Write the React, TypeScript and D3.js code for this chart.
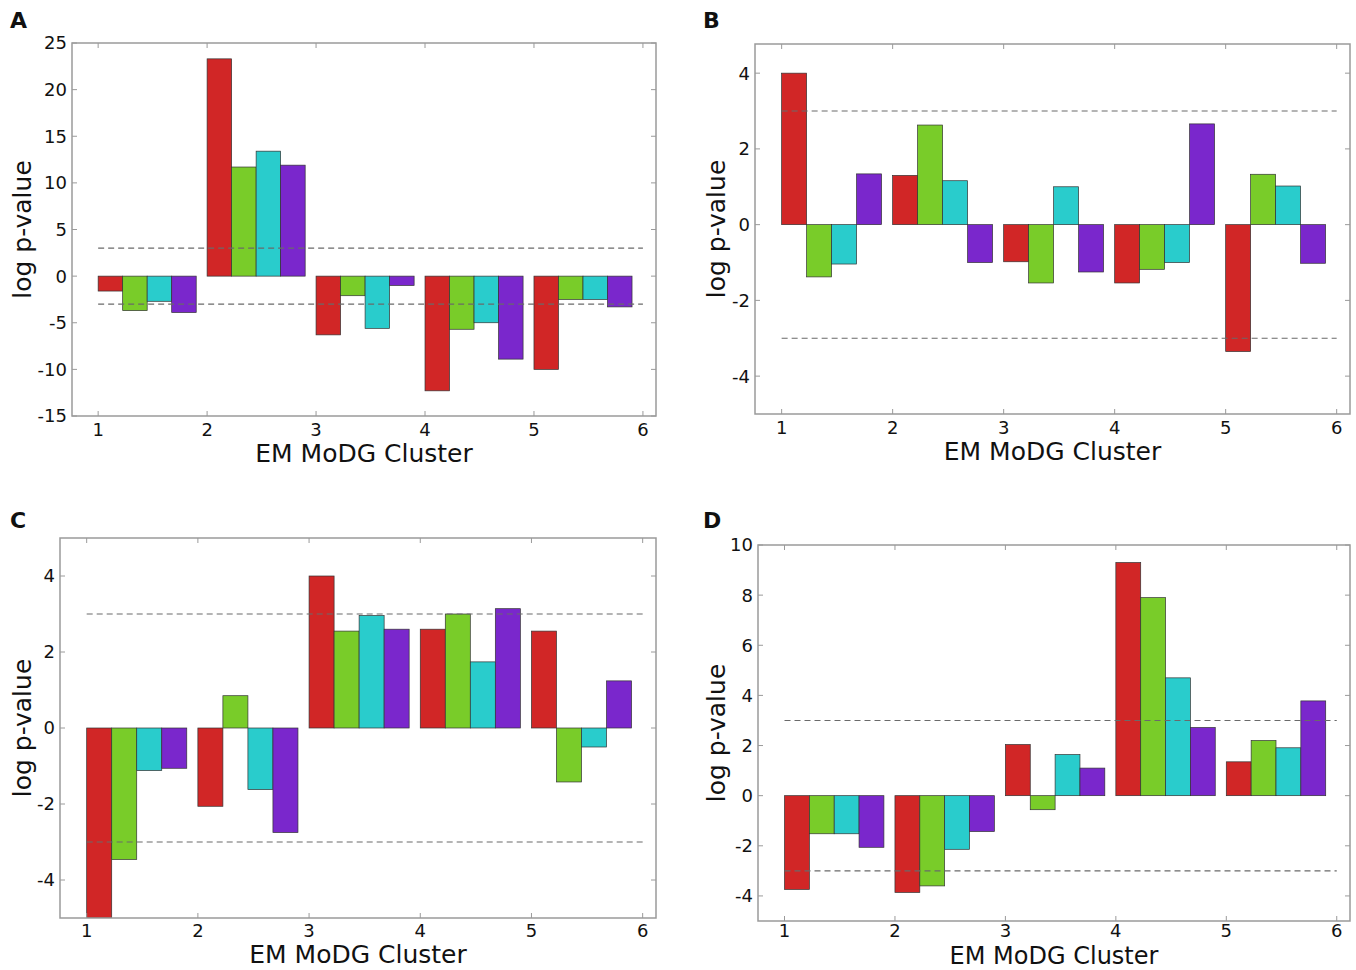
import React from "react";
import * as d3 from "d3";

// cluster ids on the x axis, four bars per cluster
const clusters = [1, 2, 3, 4, 5];
const xTicks = [1, 2, 3, 4, 5, 6];
const barColors = ["#d12626", "#79cc29", "#29cccc", "#7a27cc"];

// log p-values, one row per cluster: red, green, cyan, purple
const valuesA = [
  [-1.6, -3.7, -2.7, -3.9],
  [23.3, 11.7, 13.4, 11.9],
  [-6.3, -2.1, -5.6, -1.0],
  [-12.3, -5.7, -5.0, -8.9],
  [-10.0, -2.5, -2.5, -3.3],
];
const valuesB = [
  [4.0, -1.38, -1.04, 1.34],
  [1.3, 2.63, 1.16, -1.0],
  [-0.98, -1.54, 1.0, -1.25],
  [-1.54, -1.18, -1.0, 2.66],
  [-3.35, 1.33, 1.02, -1.02],
];
const valuesC = [
  [-5.0, -3.46, -1.12, -1.06],
  [-2.06, 0.85, -1.62, -2.75],
  [4.0, 2.55, 2.96, 2.6],
  [2.6, 3.0, 1.74, 3.14],
  [2.55, -1.42, -0.5, 1.24],
];
const valuesD = [
  [-3.74, -1.52, -1.52, -2.06],
  [-3.86, -3.6, -2.14, -1.43],
  [2.04, -0.56, 1.64, 1.1],
  [9.3, 7.9, 4.7, 2.72],
  [1.35, 2.2, 1.91, 3.78],
];

const yTicksA = [-15, -10, -5, 0, 5, 10, 15, 20, 25];
const yTicksB = [-4, -2, 0, 2, 4];
const yTicksC = [-4, -2, 0, 2, 4];
const yTicksD = [-4, -2, 0, 2, 4, 6, 8, 10];

const threshold = 3;
const barWidth = 0.225;
const font = "'DejaVu Sans', sans-serif";

const panels = [
  { letter: "A", values: valuesA, yDomain: [-15, 25], yTicks: yTicksA,
    box: { left: 72, right: 656, top: 43, bottom: 416 }, letterPos: [10, 28], ylabelX: 22,
    xtickDy: 20, xlabelDy: 46, xlabelSize: 25 },
  { letter: "B", values: valuesB, yDomain: [-5, 4.77], yTicks: yTicksB,
    box: { left: 755, right: 1350, top: 44, bottom: 414 }, letterPos: [703, 28], ylabelX: 716,
    xtickDy: 20, xlabelDy: 46, xlabelSize: 25 },
  { letter: "C", values: valuesC, yDomain: [-5, 5], yTicks: yTicksC,
    box: { left: 60, right: 656, top: 538, bottom: 918 }, letterPos: [10, 528], ylabelX: 22,
    xtickDy: 19, xlabelDy: 45, xlabelSize: 25 },
  { letter: "D", values: valuesD, yDomain: [-5, 10], yTicks: yTicksD,
    box: { left: 758, right: 1350, top: 545, bottom: 921 }, letterPos: [703, 528], ylabelX: 716,
    xtickDy: 16, xlabelDy: 43, xlabelSize: 24 },
];

const Panel = ({ p }) => {
  const { box } = p;
  const x = d3.scaleLinear().domain([0.76, 6.12]).range([box.left, box.right]);
  const y = d3.scaleLinear().domain(p.yDomain).range([box.bottom, box.top]);
  const clipId = "clip-" + p.letter;
  const tickLen = 5;
  const frameColor = "#9a9a9a";

  return (
    <g>
      <defs>
        <clipPath id={clipId}>
          <rect x={box.left} y={box.top} width={box.right - box.left} height={box.bottom - box.top} />
        </clipPath>
      </defs>

      {/* bars */}
      <g clipPath={`url(#${clipId})`}>
        {p.values.map((row, ci) =>
          row.map((v, si) => {
            const x0 = x(clusters[ci] + si * barWidth);
            const x1 = x(clusters[ci] + (si + 1) * barWidth);
            return (
              <rect
                key={ci + "-" + si}
                x={x0}
                width={x1 - x0}
                y={Math.min(y(v), y(0))}
                height={Math.abs(y(v) - y(0))}
                fill={barColors[si]}
                stroke="#333"
                strokeWidth={0.7}
              />
            );
          })
        )}
        {/* significance thresholds */}
        {[threshold, -threshold].map((t) => (
          <line
            key={t}
            x1={x(1)}
            x2={x(6)}
            y1={y(t)}
            y2={y(t)}
            stroke="#6a6a6a"
            strokeWidth={1.1}
            strokeDasharray="6,4"
          />
        ))}
      </g>

      {/* frame */}
      <rect x={box.left} y={box.top} width={box.right - box.left} height={box.bottom - box.top}
        fill="none" stroke={frameColor} strokeWidth={1.5} />

      {/* x ticks, inside on top and bottom */}
      {xTicks.map((t) => (
        <g key={"x" + t}>
          <line x1={x(t)} x2={x(t)} y1={box.bottom} y2={box.bottom - tickLen} stroke={frameColor} />
          <line x1={x(t)} x2={x(t)} y1={box.top} y2={box.top + tickLen} stroke={frameColor} />
          <text x={x(t)} y={box.bottom + p.xtickDy} textAnchor="middle" fontFamily={font} fontSize={18} fill="#111">
            {t}
          </text>
        </g>
      ))}

      {/* y ticks, inside on left and right */}
      {p.yTicks.map((t) => (
        <g key={"y" + t}>
          <line x1={box.left} x2={box.left + tickLen} y1={y(t)} y2={y(t)} stroke={frameColor} />
          <line x1={box.right} x2={box.right - tickLen} y1={y(t)} y2={y(t)} stroke={frameColor} />
          <text x={box.left - 5} y={y(t)} dy="0.36em" textAnchor="end" fontFamily={font} fontSize={18} fill="#111">
            {t}
          </text>
        </g>
      ))}

      <text x={(box.left + box.right) / 2} y={box.bottom + p.xlabelDy} textAnchor="middle"
        fontFamily={font} fontSize={p.xlabelSize} fill="#111">
        EM MoDG Cluster
      </text>
      <text transform={`translate(${p.ylabelX},${(box.top + box.bottom) / 2}) rotate(-90)`}
        textAnchor="middle" dy="0.36em" fontFamily={font} fontSize={25} fill="#111">
        log p-value
      </text>
      <text x={p.letterPos[0]} y={p.letterPos[1]} fontFamily={font} fontWeight="bold" fontSize={22} fill="#111">
        {p.letter}
      </text>
    </g>
  );
};

export default function App() {
  return (
    <svg width={1356} height={970} style={{ position: "absolute", left: 0, top: 0, background: "#fff" }}>
      <rect width={1356} height={970} fill="#fff" />
      {panels.map((p) => (
        <Panel key={p.letter} p={p} />
      ))}
    </svg>
  );
}
